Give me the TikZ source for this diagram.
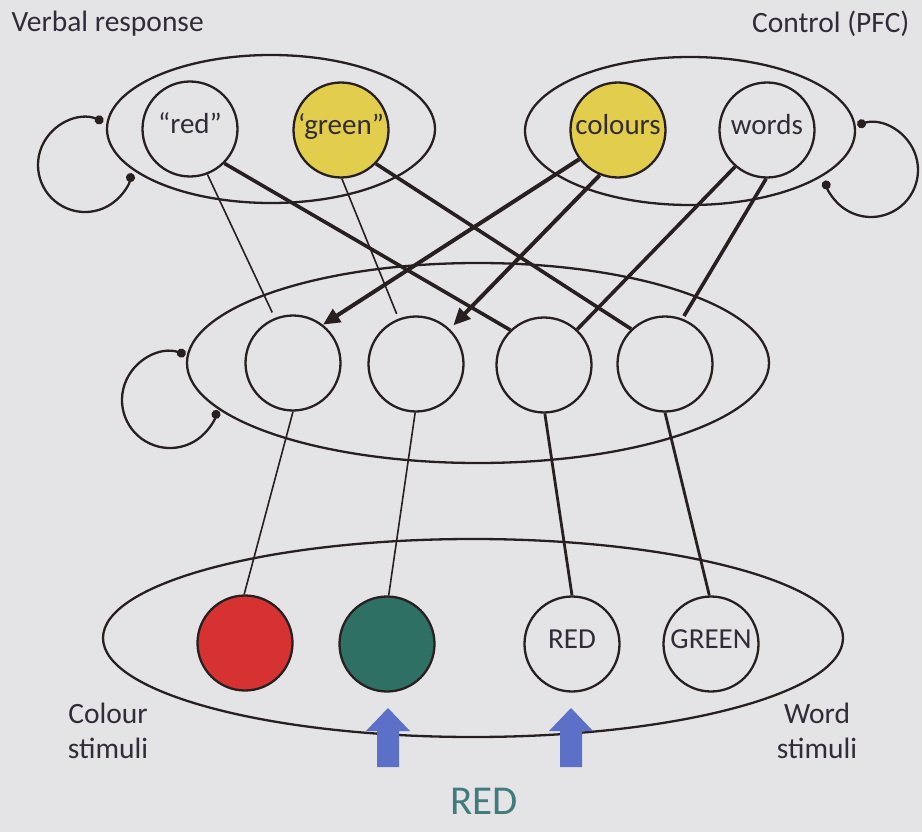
\documentclass[tikz,border=0pt]{standalone}
\usepackage{fontspec}
\setmainfont{Carlito}
\usetikzlibrary{shapes.geometric,arrows.meta,calc}

\definecolor{paper}{RGB}{228,228,230}
\definecolor{ink}{RGB}{40,32,32}
\definecolor{txt}{RGB}{50,44,56}
\definecolor{unityellow}{RGB}{226,206,76}
\definecolor{stimred}{RGB}{214,50,50}
\definecolor{stimgreen}{RGB}{46,112,100}
\definecolor{cueblue}{RGB}{92,112,200}
\definecolor{wordteal}{RGB}{64,124,124}

\tikzset{
  unit/.style={circle,draw=ink,line width=2.3pt,minimum size=95pt,inner sep=0pt,
    text=txt,font=\fontsize{29}{35}\selectfont,text height=9pt,text depth=0pt},
  layer/.style={ellipse,draw=ink,line width=2.3pt,inner sep=0pt},
  weak/.style={draw=ink,line width=1.6pt},
  medium/.style={draw=ink,line width=2.8pt},
  strong/.style={draw=ink,line width=3.6pt},
  ctrl/.style={draw=ink,line width=4pt,-{Triangle[length=17pt,width=15pt]}},
  recur/.style={draw=ink,line width=2.3pt,{Circle[length=9pt]}-{Circle[length=9pt]}},
  caption/.style={text=txt,font=\fontsize{29.5}{35}\selectfont},
  cuearrow/.pic={\fill[cueblue] (-11,-59) -- (-11,-23) -- (-22,-23) -- (0,0)
    -- (22,-23) -- (11,-23) -- (11,-59) -- cycle;}
}

\begin{document}
\begin{tikzpicture}[x=1pt,y=1pt]
  \fill[paper] (0,0) rectangle (922,-832);
  \useasboundingbox (0,0) rectangle (922,-832);

  % layers
  \node[layer,minimum width=328pt,minimum height=148pt] (vr)  at (271,-129) {};
  \node[layer,minimum width=330pt,minimum height=148pt] (pfc) at (690,-131) {};
  \node[layer,minimum width=582pt,minimum height=200pt] (hid) at (478,-363) {};
  \node[layer,minimum width=740pt,minimum height=198pt] (stim) at (473,-638) {};

  % response units
  \node[unit] (r1) at (190,-129) {“red”};
  \node[unit,fill=unityellow] (g1) at (341,-130) {‘green”};
  % control units
  \node[unit,fill=unityellow] (col) at (618,-130) {colours};
  \node[unit] (wrd) at (767,-130) {words};
  % hidden units
  \node[unit] (h1) at (293,-363) {};
  \node[unit] (h2) at (416,-364) {};
  \node[unit] (h3) at (544,-365) {};
  \node[unit] (h4) at (665,-364) {};
  % stimulus units
  \node[unit,fill=stimred] (sr) at (245,-643) {};
  \node[unit,fill=stimgreen] (sg) at (387,-644) {};
  \node[unit] (sw1) at (572,-644) {RED};
  \node[unit] (sw2) at (711,-644) {GREEN};

  % hidden -> response
  \draw[weak,shorten >=6pt] (r1.-69) -- (h1.112);
  \draw[strong] (r1.-45) -- (h3.134);
  \draw[weak,shorten >=5pt] (g1.-89) -- (h2.111);
  \draw[strong] (g1.-44) -- (h4.134);
  % control -> hidden
  \draw[ctrl] (col.-143) -- (h1.52);
  \draw[ctrl,shorten >=5pt] (col.-112) -- (h2.46);
  \draw[strong] (wrd.-131) -- (h3.47);
  \draw[strong,shorten >=3pt] (wrd.-91) -- (h4.69);
  % stimulus -> hidden
  \draw[weak] (h1.-90) -- (sr.91);
  \draw[weak] (h2.-91) -- (sg.88);
  \draw[medium] (h3.-89) -- (sw1.90);
  \draw[medium] (h4.-90) -- (sw2.92);

  % recurrent loops
  \coordinate (lpA) at (85,-165);
  \coordinate (lpB) at (871,-170);
  \coordinate (lpC) at (170,-400);
  \draw[recur] ($(lpA)+(67:47)$) arc[start angle=67,end angle=350,radius=47];
  \draw[recur] ($(lpB)+(107:47)$) arc[start angle=107,end angle=-167,radius=47];
  \draw[recur] ($(lpC)+(71:48)$) arc[start angle=71,end angle=348,radius=48];

  % input cues
  \pic at (388,-708) {cuearrow};
  \pic at (571,-708) {cuearrow};

  % captions
  \node[caption,anchor=base west] (tv) at (8,-32) {Verbal response};
  \node[caption,anchor=base east] (tc) at (913,-33) {Control (PFC)};
  \node[caption,align=center] (tcs) at (108,-731) {Colour\\stimuli};
  \node[caption,align=center] (tws) at (817,-731) {Word\\stimuli};
  \node[text=wordteal,font=\fontsize{41}{49}\selectfont,anchor=base] (tred) at (484,-814) {RED};
\end{tikzpicture}
\end{document}
